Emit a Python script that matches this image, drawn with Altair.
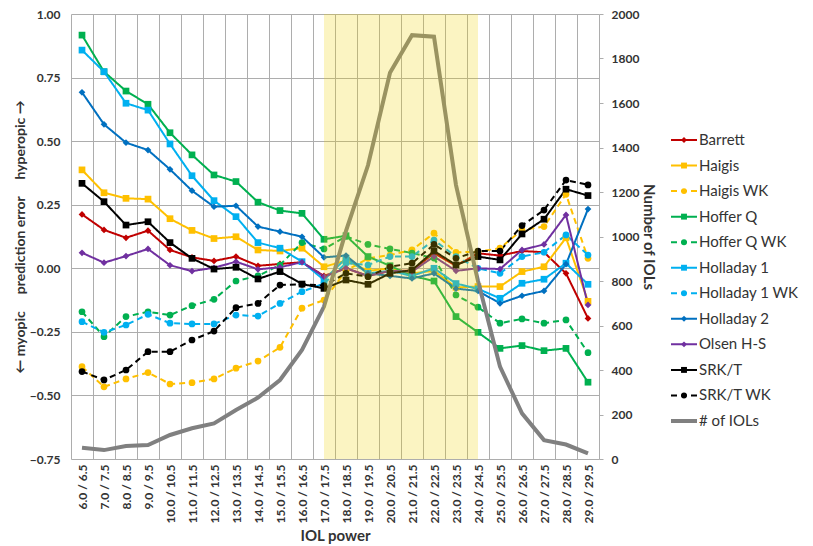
import altair as alt
import pandas as pd

categories = ["6.0 / 6.5", "7.0 / 7.5", "8.0 / 8.5", "9.0 / 9.5", "10.0 / 10.5",
              "11.0 / 11.5", "12.0 / 12.5", "13.0 / 13.5", "14.0 / 14.5", "15.0 / 15.5",
              "16.0 / 16.5", "17.0 / 17.5", "18.0 / 18.5", "19.0 / 19.5", "20.0 / 20.5",
              "21.0 / 21.5", "22.0 / 22.5", "23.0 / 23.5", "24.0 / 24.5", "25.0 / 25.5",
              "26.0 / 26.5", "27.0 / 27.5", "28.0 / 28.5", "29.0 / 29.5"]

barrett = [0.212, 0.151, 0.120, 0.148, 0.072, 0.043, 0.029, 0.046, 0.010, 0.017, 0.024, -0.030,
           0.000, -0.030, -0.010, -0.010, 0.060, 0.010, 0.059, 0.050, 0.068, 0.063, -0.020, -0.197]
haigis = [0.387, 0.297, 0.275, 0.272, 0.195, 0.149, 0.117, 0.124, 0.072, 0.068, 0.079, 0.006,
          0.030, -0.010, 0.000, -0.020, -0.010, -0.075, -0.072, -0.072, -0.013, 0.006, 0.120, -0.130]
haigis_wk = [-0.387, -0.466, -0.435, -0.410, -0.455, -0.450, -0.435, -0.393, -0.365, -0.311, -0.157, -0.125,
             -0.010, 0.039, 0.052, 0.072, 0.138, 0.063, 0.065, 0.079, 0.151, 0.164, 0.291, 0.039]
hoffer_q = [0.917, 0.773, 0.697, 0.645, 0.533, 0.446, 0.367, 0.341, 0.260, 0.227, 0.216, 0.114,
            0.128, 0.046, 0.010, -0.030, -0.050, -0.190, -0.252, -0.315, -0.304, -0.324, -0.315, -0.448]
hoffer_q_wk = [-0.171, -0.269, -0.190, -0.171, -0.184, -0.147, -0.122, -0.050, -0.030, 0.013, 0.101, 0.076,
               0.125, 0.094, 0.076, 0.060, 0.040, -0.105, -0.153, -0.216, -0.199, -0.216, -0.203, -0.332]
holladay_1 = [0.858, 0.773, 0.649, 0.622, 0.489, 0.364, 0.266, 0.203, 0.101, 0.079, 0.026, -0.046,
              0.040, -0.020, -0.010, -0.030, 0.000, -0.060, -0.081, -0.118, -0.059, -0.043, 0.020, -0.063]
holladay_1_wk = [-0.210, -0.252, -0.223, -0.181, -0.216, -0.219, -0.219, -0.184, -0.188, -0.138, -0.092, -0.060,
                 0.020, 0.013, 0.046, 0.046, 0.111, 0.046, 0.000, -0.020, 0.046, 0.063, 0.131, 0.052]
holladay_2 = [0.692, 0.566, 0.494, 0.465, 0.389, 0.305, 0.242, 0.246, 0.164, 0.144, 0.124, 0.043,
              0.050, -0.020, -0.030, -0.040, -0.020, -0.080, -0.089, -0.138, -0.108, -0.089, 0.016, 0.233]
olsen = [0.061, 0.022, 0.048, 0.076, 0.012, -0.011, 0.002, 0.026, -0.004, 0.004, 0.024, -0.033,
         0.000, -0.030, -0.010, -0.013, 0.046, -0.010, 0.000, -0.003, 0.072, 0.094, 0.210, -0.144]
srkt = [0.334, 0.262, 0.170, 0.183, 0.101, 0.039, -0.003, 0.004, -0.042, -0.013, -0.062, -0.079,
        -0.046, -0.063, -0.020, -0.007, 0.068, 0.013, 0.046, 0.033, 0.135, 0.193, 0.311, 0.286]
srkt_wk = [-0.406, -0.439, -0.400, -0.328, -0.328, -0.282, -0.247, -0.155, -0.138, -0.066, -0.063, -0.068,
           -0.020, -0.033, 0.006, 0.020, 0.094, 0.039, 0.068, 0.068, 0.168, 0.229, 0.347, 0.328]
iol_counts = [51, 40, 58, 63, 108, 138, 160, 220, 276, 355, 490, 685,
              1025, 1320, 1736, 1905, 1898, 1231, 800, 415, 205, 85, 65, 25]

series_names = ["Barrett", "Haigis", "Haigis WK", "Hoffer Q", "Hoffer Q WK", "Holladay 1",
                "Holladay 1 WK", "Holladay 2", "Olsen H-S", "SRK/T", "SRK/T WK"]
series_values = [barrett, haigis, haigis_wk, hoffer_q, hoffer_q_wk, holladay_1,
                 holladay_1_wk, holladay_2, olsen, srkt, srkt_wk]
series_colors = ["#C00000", "#FFC000", "#FFC000", "#00B050", "#00B050", "#00B0F0",
                 "#00B0F0", "#0070C0", "#7030A0", "#000000", "#000000"]
series_shapes = ["diamond", "square", "circle", "square", "circle", "square",
                 "circle", "diamond", "diamond", "square", "circle"]
solid = [1, 0]
dashed = [6, 4]
series_dash = [solid, solid, dashed, solid, dashed, solid, dashed, solid, solid, solid, dashed]

iol_name = "# of IOLs"
iol_color = "#808080"
shade_start = "17.0 / 17.5"
shade_end = "24.0 / 24.5"

FONT = "Lato"
TXT = "#333333"

rows = []
for name, vals in zip(series_names, series_values):
    for cat, v in zip(categories, vals):
        rows.append({"cat": cat, "series": name, "value": v})
df = pd.DataFrame(rows)
iol_df = pd.DataFrame({"cat": categories, "count": iol_counts})
shade_df = pd.DataFrame({"cat": [shade_start], "cat_end": [shade_end]})

x_enc = alt.X(
    "cat:N", sort=categories, bandPosition=0.5,
    scale=alt.Scale(type="band", domain=categories, paddingInner=0, paddingOuter=0),
    axis=alt.Axis(title="IOL power", labelAngle=-90, tickBand="extent", grid=True,
                  ticks=False, domain=False, labelFont=FONT, labelFontSize=12,
                  labelFontWeight="bold", labelColor=TXT, labelPadding=5,
                  titleFont=FONT, titleFontSize=15, titleFontWeight="bold",
                  titleColor=TXT, titlePadding=6, gridColor="#ADADAD"),
)

left_title = ("\u2190\u00a0myopic\u00a0\u00a0\u00a0\u00a0\u00a0prediction error"
              "\u00a0\u00a0\u00a0\u00a0\u00a0hyperopic\u00a0\u2192")

y_left = alt.Y(
    "value:Q",
    scale=alt.Scale(domain=[-0.75, 1.0], nice=False, zero=False),
    axis=alt.Axis(values=[-0.75, -0.5, -0.25, 0, 0.25, 0.5, 0.75, 1.0], format=".2f",
                  title=left_title, grid=True, ticks=False, domain=False,
                  labelFont=FONT, labelFontSize=12, labelFontWeight="bold",
                  labelColor=TXT, labelPadding=11, titleFont=FONT, titleFontSize=14,
                  titleFontWeight="bold", titleColor=TXT, titlePadding=2,
                  gridColor="#ADADAD"),
)

color_enc = alt.Color("series:N", scale=alt.Scale(domain=series_names, range=series_colors), legend=None)
dash_enc = alt.StrokeDash("series:N", scale=alt.Scale(domain=series_names, range=series_dash), legend=None)
shape_enc = alt.Shape("series:N", scale=alt.Scale(domain=series_names, range=series_shapes), legend=None)

base = alt.Chart(df)
lines = base.mark_line(strokeWidth=2).encode(x=x_enc, y=y_left, color=color_enc, strokeDash=dash_enc)
points = base.mark_point(filled=True, size=45, opacity=1).encode(
    x=x_enc, y=y_left, color=color_enc, shape=shape_enc)
left_layer = alt.layer(lines, points)

iol_line = alt.Chart(iol_df).mark_line(color=iol_color, strokeWidth=4).encode(
    x=x_enc,
    y=alt.Y("count:Q", scale=alt.Scale(domain=[0, 2000], nice=False),
            axis=alt.Axis(orient="right", values=list(range(0, 2001, 200)), format="d",
                          title="Number of IOLs", grid=False, ticks=True, tickSize=4,
                          tickColor="#ADADAD", domain=False, labelFont=FONT,
                          labelFontSize=12, labelFontWeight="bold", labelColor=TXT,
                          labelPadding=8, titleFont=FONT, titleFontSize=15,
                          titleFontWeight="bold", titleColor=TXT, titlePadding=2)),
)

shade = alt.Chart(shade_df).mark_rect(color="#F0D000", opacity=0.24).encode(
    x=x_enc, x2=alt.X2("cat_end:N", bandPosition=0.5))

main = alt.layer(left_layer, iol_line, shade).resolve_scale(y="independent").properties(
    width=528, height=445)

# legend panel
leg_names = series_names + [iol_name]
leg_df = pd.DataFrame({"entry": leg_names})
leg_y = alt.Y("entry:N", sort=leg_names,
              scale=alt.Scale(type="point", domain=leg_names, range=[126, 407], padding=0),
              axis=None)
leg_color = alt.Color("entry:N", scale=alt.Scale(domain=leg_names, range=series_colors + [iol_color]), legend=None)
leg_dash = alt.StrokeDash("entry:N", scale=alt.Scale(domain=leg_names, range=series_dash + [solid]), legend=None)
leg_shape = alt.Shape("entry:N", scale=alt.Scale(domain=series_names, range=series_shapes), legend=None)

leg_base = alt.Chart(leg_df)
leg_rule = leg_base.transform_filter(alt.datum.entry != iol_name).mark_rule(strokeWidth=2).encode(
    y=leg_y, x=alt.value(0), x2=alt.value(26), color=leg_color, strokeDash=leg_dash)
leg_rule_iol = leg_base.transform_filter(alt.datum.entry == iol_name).mark_rule(
    strokeWidth=4, color=iol_color).encode(y=leg_y, x=alt.value(0), x2=alt.value(26))
leg_pt = leg_base.transform_filter(alt.datum.entry != iol_name).mark_point(
    filled=True, size=35, opacity=1).encode(y=leg_y, x=alt.value(13), color=leg_color, shape=leg_shape)
leg_txt = leg_base.mark_text(align="left", baseline="middle", font=FONT, fontSize=15,
                             color=TXT).encode(y=leg_y, x=alt.value(28), text="entry:N")
legend = alt.layer(leg_rule, leg_rule_iol, leg_pt, leg_txt).properties(width=125, height=445)

chart = alt.hconcat(main, legend, spacing=13).resolve_scale(
    color="independent", strokeDash="independent", shape="independent", y="independent"
).configure_view(stroke=None).properties(
    padding={"left": 5, "top": 0, "right": 0, "bottom": 0})

chart.save("out.html", embed_options={"renderer": "svg", "actions": False})
